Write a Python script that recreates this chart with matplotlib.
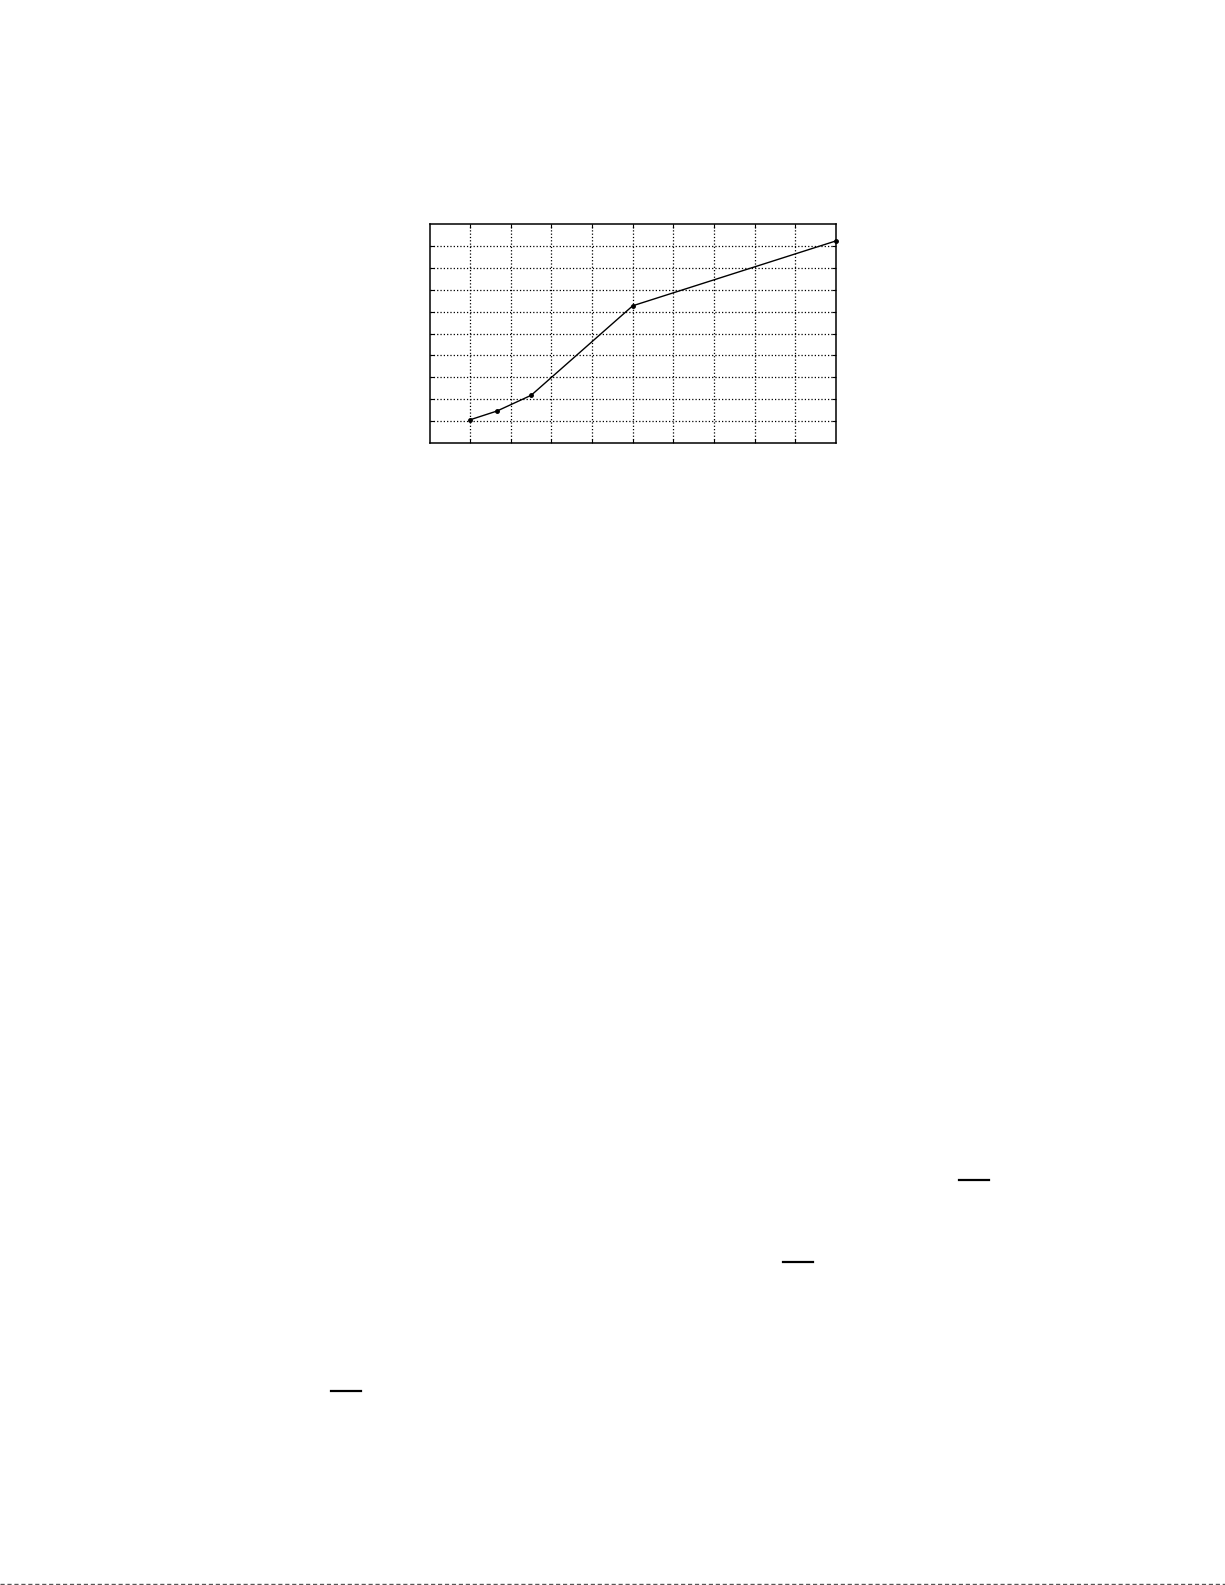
import matplotlib
matplotlib.use('Agg')
import matplotlib.pyplot as plt
from matplotlib.lines import Line2D

# measured curve
x_vals = [1.0, 1.66, 2.5, 5.0, 10.0]
y_vals = [1.05, 1.45, 2.17, 6.27, 9.24]
grid_ticks = list(range(0, 11))

# leftover fraction bars on the scanned page (pixel coords: x0, x1, y)
bars = [(959, 989, 1180), (783, 813, 1262), (331, 361, 1391)]

W, H = 1225, 1585
fig = plt.figure(figsize=(W / 100, H / 100), dpi=100)
fig.patch.set_facecolor('white')

ax = fig.add_axes([429.5 / W, 1 - 442.7 / H, 406.5 / W, 218.4 / H])
ax.plot(x_vals, y_vals, color='black', linewidth=1.0, marker='o',
        markersize=2.5, clip_on=False, zorder=3)
ax.set_xlim(0, 10)
ax.set_ylim(0, 10)
ax.set_xticks(grid_ticks[1:-1])
ax.set_yticks(grid_ticks[1:-1])
ax.set_xticklabels([])
ax.set_yticklabels([])
ax.tick_params(direction='in', length=3, width=0.8, top=True, right=True)
ax.grid(True, color='black', linestyle=':', linewidth=0.9)
for s in ax.spines.values():
    s.set_linewidth(1.1)

for x0, x1, y in bars:
    fig.add_artist(Line2D([x0 / W, x1 / W], [1 - y / H, 1 - y / H],
                          color='black', linewidth=1.6))

# dashed edge at the page bottom
fig.add_artist(Line2D([0, 1], [0.8 / H, 0.8 / H], color='#555555',
                      linewidth=1.0, linestyle=(0, (3, 2))))

plt.savefig('out.png', dpi=100)
